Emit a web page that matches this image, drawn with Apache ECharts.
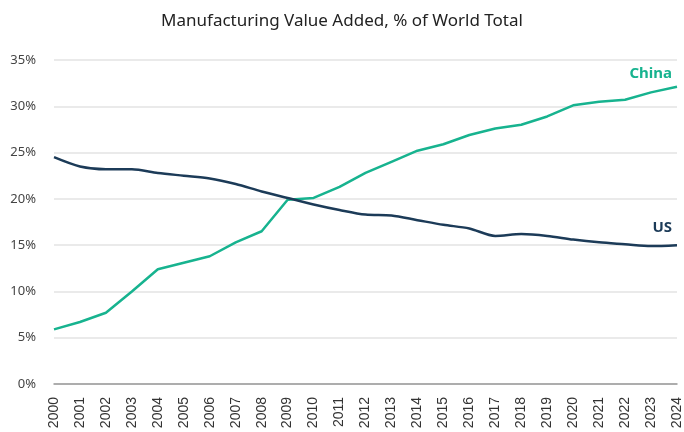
<!DOCTYPE html>
<html><head><meta charset="utf-8">
<script src="https://cdn.jsdelivr.net/npm/echarts@6/dist/echarts.min.js"></script>
<style>html,body{margin:0;padding:0;background:#fff}#c{width:684px;height:432px}</style>
</head><body><div id="c"></div>
<script>
const years = ['2000','2001','2002','2003','2004','2005','2006','2007','2008','2009','2010','2011','2012','2013','2014','2015','2016','2017','2018','2019','2020','2021','2022','2023','2024'];
const china = [5.9,6.7,7.7,10.0,12.4,13.1,13.8,15.3,16.5,19.9,20.1,21.3,22.8,24.0,25.2,25.9,26.9,27.6,28.0,28.9,30.1,30.5,30.7,31.5,32.1];
const us = [24.5,23.5,23.2,23.2,22.8,22.5,22.2,21.6,20.8,20.1,19.4,18.8,18.3,18.2,17.7,17.2,16.8,16.0,16.2,16.0,15.6,15.3,15.1,14.9,15.0];
const yTicks = [0,5,10,15,20,25,30,35];

const chart = echarts.init(document.getElementById('c'));
chart.setOption({
  animation:false,
  title:{text:'Manufacturing Value Added, % of World Total',left:'center',top:8,
    textStyle:{fontFamily:'Noto Sans',fontSize:17,fontWeight:'normal',color:'#222'}},
  grid:{left:54,right:3,top:60,bottom:48},
  xAxis:{type:'category',data:years,boundaryGap:false,
    axisLine:{lineStyle:{color:'#999',width:1.5}},axisTick:{show:false},
    axisLabel:{rotate:90,interval:0,margin:13,fontFamily:'Liberation Sans',fontSize:14,color:'#333'},
    splitLine:{show:false}},
  yAxis:{type:'value',min:yTicks[0],max:yTicks[yTicks.length-1],interval:5,
    axisLine:{show:false},axisTick:{show:false},
    axisLabel:{formatter:v=>v+'%',margin:18,fontFamily:'Noto Sans',fontSize:13,color:'#444'},
    splitLine:{lineStyle:{color:'#e3e3e3',width:1.5}}},
  series:[
    {name:'China',type:'line',data:china,symbol:'none',smooth:false,
      lineStyle:{color:'#17b38f',width:2.5},
      endLabel:{show:true,formatter:'China',align:'right',verticalAlign:'middle',offset:[-13,-13],
        fontFamily:'Noto Sans',fontSize:15,fontWeight:'bold',color:'#17b38f'}},
    {name:'US',type:'line',data:us,symbol:'none',smooth:0.3,
      lineStyle:{color:'#1c3b58',width:2.5},
      endLabel:{show:true,formatter:'US',align:'right',verticalAlign:'middle',offset:[-13,-17],
        fontFamily:'Noto Sans',fontSize:15,fontWeight:'bold',color:'#1c3b58'}}
  ]
});
</script></body></html>
